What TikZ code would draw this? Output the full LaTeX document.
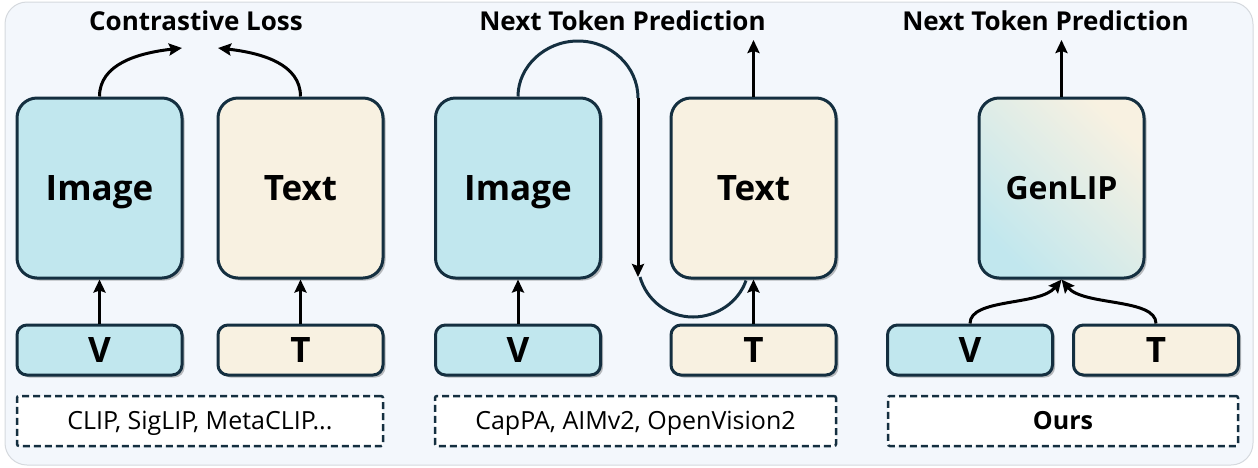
\documentclass[tikz,border=0pt]{standalone}
\usepackage{fontspec}
\setmainfont{Open Sans}
\usetikzlibrary{shadows,arrows.meta,calc}
\definecolor{bgc}{HTML}{F3F7FC}
\definecolor{bgline}{HTML}{D5D9DE}
\definecolor{navy}{HTML}{142F40}
\definecolor{bluef}{HTML}{C1E7EE}
\definecolor{creamf}{HTML}{F8F1E1}
\tikzset{
  shd/.style={drop shadow={shadow xshift=2.5pt, shadow yshift=-2.5pt, opacity=0.25, fill=black}},
  bigbox/.style={draw=navy, line width=3pt, rounded corners=20pt, shd, inner sep=0pt,
    minimum width=165pt, minimum height=180pt, text height=25pt, text depth=0pt,
    font=\bfseries\fontsize{35}{40}\selectfont},
  tokbox/.style={draw=navy, line width=3pt, rounded corners=10pt, shd, inner sep=0pt,
    minimum width=165pt, minimum height=50pt, text height=25pt, text depth=0pt,
    font=\bfseries\fontsize{35}{40}\selectfont},
  refbox/.style={draw=navy, line width=2.5pt, dash pattern=on 7pt off 4pt, fill=white,
    rounded corners=2pt, inner sep=0pt, minimum height=50pt, text height=17.5pt, text depth=0pt,
    font=\fontsize{25}{30}\selectfont},
  ttl/.style={anchor=base, inner sep=0pt, font=\bfseries\fontsize{26}{30}\selectfont},
  arr/.style={draw=black, line width=3pt, -{Stealth[length=13pt,width=12pt,inset=2pt]}},
  curv/.style={draw=navy, line width=3pt},
}
\begin{document}
\begin{tikzpicture}[x=1pt,y=-1pt]
\useasboundingbox (0,0) rectangle (1258,467);
\draw[bgline, fill=bgc, line width=1pt, rounded corners=22pt] (5,2) rectangle (1253,465);

% ---------- Panel 1
\node[ttl] (t1) at (196,30) {Contrastive Loss};
\node[bigbox, fill=bluef] (img1) at (99.5,188) {Image};
\node[bigbox, fill=creamf] (txt1) at (300.5,188) {Text};
\node[tokbox, fill=bluef] (v1) at (99.5,350) {V};
\node[tokbox, fill=creamf] (tk1) at (300.5,350) {T};
\node[refbox, minimum width=366pt] (r1) at (200,421) {CLIP, SigLIP, MetaCLIP...};
\coordinate (cl1) at (182,48);
\coordinate (cl2) at (218,48);
\draw[arr] (img1.north) .. controls (99.5,64) and (138,53) .. (cl1);
\draw[arr] (txt1.north) .. controls (300.5,64) and (262,53) .. (cl2);
\draw[arr] (v1.north) -- (img1.south);
\draw[arr] (tk1.north) -- (txt1.south);

% ---------- Panel 2
\node[ttl] (t2) at (622.5,30) {Next Token Prediction};
\node[bigbox, fill=bluef] (img2) at (518,188) {Image};
\node[bigbox, fill=creamf] (txt2) at (753.5,188) {Text};
\node[tokbox, fill=bluef] (v2) at (518,350) {V};
\node[tokbox, fill=creamf] (tk2) at (753.5,350) {T};
\node[refbox, minimum width=401pt] (r2) at (635.5,421) {CapPA, AIMv2, OpenVision2};
\coordinate (turn) at (638,98);
\coordinate (down) at (638,277);
\coordinate (up2) at (753.5,40);
\draw[curv] (img2.north) .. controls (518,66.5) and (545,41) .. (578,41)
  .. controls (611,41) and (638,66.5) .. (turn);
\draw[arr] (turn) -- (down);
\draw[curv] (640,277) .. controls (646.7,300.7) and (668.4,317) .. (693,317)
  .. controls (717,317) and (738.7,301.8) .. ($(txt2.south)+(-7.5,1)$);
\draw[arr] (txt2.north) -- (up2);
\draw[arr] (v2.north) -- (img2.south);
\draw[arr] (tk2.north) -- (txt2.south);

% ---------- Panel 3
\node[ttl] (t3) at (1045.5,30) {Next Token Prediction};
\node[bigbox, shade, bottom color=bluef, top color=creamf, shading angle=-45,
  font=\bfseries\fontsize{32}{38}\selectfont, text height=23pt] (gen) at (1061.5,188) {GenLIP};
\node[tokbox, fill=bluef] (v3) at (970,350) {V};
\node[tokbox, fill=creamf] (tk3) at (1156,350) {T};
\node[refbox, minimum width=350pt, font=\bfseries\fontsize{25}{30}\selectfont] (r3) at (1063,421) {Ours};
\coordinate (up3) at (1061.5,40);
\draw[arr] (gen.north) -- (up3);
\draw[arr] (v3.north) .. controls (970,298) and (1040,306) .. (gen.south);
\draw[arr] (tk3.north) .. controls (1156,298) and (1083,306) .. (gen.south);
\end{tikzpicture}
\end{document}
